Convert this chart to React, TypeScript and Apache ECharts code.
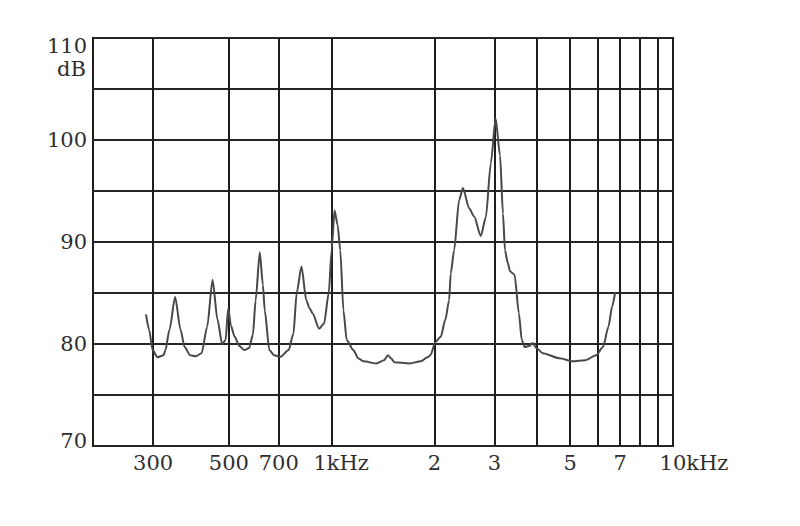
import React, { useEffect, useRef } from "react";
import * as echarts from "echarts";

// Traced spectrum (frequency in Hz, level in dB)
const freqHz = [
  286, 292, 299, 309, 322, 326, 335, 348, 361, 371, 385, 400, 416, 432, 448, 463, 478, 489, 498, 507,
  520, 537, 555, 573, 588, 599, 616, 629, 637, 657, 678, 709, 748, 773, 790, 816, 843, 862, 880, 919,
  950, 981, 1000, 1020, 1041, 1060, 1083, 1107, 1158, 1197, 1238, 1352, 1424, 1462, 1492, 1529, 1690, 1826, 1909, 1948,
  2014, 2087, 2154, 2209, 2233, 2285, 2363, 2425, 2528, 2615, 2735, 2829, 2926, 3023, 3114, 3176, 3220, 3277, 3335, 3434,
  3537, 3606, 3678, 3788, 3885, 3977, 4156, 4651, 5086, 5529, 5953, 6238, 6471, 6635, 6772,
];
const levelDb = [
  82.9, 81.4, 79.4, 78.7, 78.9, 79.4, 81.4, 84.6, 81.4, 79.7, 78.9, 78.8, 79.1, 81.7, 86.3, 82.4, 80.0, 80.4, 83.5, 81.8,
  80.7, 79.8, 79.4, 79.6, 80.9, 84.3, 89.0, 85.8, 83.3, 79.4, 78.9, 78.75, 79.4, 81.0, 85.0, 87.6, 84.3, 83.5, 83.0, 81.5,
  82.0, 85.0, 89.2, 93.1, 91.7, 89.2, 83.3, 80.4, 79.4, 78.6, 78.3, 78.1, 78.4, 78.9, 78.6, 78.2, 78.1, 78.3, 78.7, 78.9,
  80.2, 80.7, 82.4, 84.3, 86.9, 89.2, 94.1, 95.3, 93.3, 92.5, 90.6, 92.4, 97.7, 102.1, 98.5, 92.8, 89.2, 88.0, 87.1, 86.8,
  83.0, 80.4, 79.7, 79.8, 80.1, 79.6, 79.1, 78.6, 78.3, 78.4, 78.9, 79.7, 81.7, 83.7, 85.1,
];

// Vertical grid lines and labelled frequencies
const gridFreqs = [300, 500, 700, 1000, 2000, 3000, 4000, 5000, 6000, 7000, 8000, 9000];
const labelFreqs = [300, 500, 700, 1000, 2000, 3000, 5000, 7000, 10000];
const labelTexts = ["300", "500", "700", "1kHz", "2", "3", "5", "7", "10kHz"];

const FONT = "DejaVu Serif";
const TXT = "#2e2e2e";

export default function App() {
  const ref = useRef<HTMLDivElement>(null);

  useEffect(() => {
    if (!ref.current) return;
    const chart = echarts.init(ref.current, null, { renderer: "svg" });
    const data = freqHz.map((f, i) => [f, levelDb[i]]);

    chart.setOption({
      animation: false,
      backgroundColor: "#ffffff",
      grid: {
        left: 93,
        right: 127,
        top: 38,
        bottom: 80,
        show: true,
        borderColor: "#1e1e1e",
        borderWidth: 2,
        backgroundColor: "transparent",
      },
      xAxis: {
        type: "log",
        logBase: 10,
        min: 200,
        max: 10000,
        axisLine: { show: false },
        axisTick: { show: false, customValues: gridFreqs },
        splitLine: { show: true, lineStyle: { color: "#1e1e1e", width: 2 } },
        axisLabel: {
          customValues: labelFreqs,
          margin: 6,
          color: TXT,
          fontFamily: FONT,
          fontSize: 21,
          formatter: (v: number) => {
            const i = labelFreqs.indexOf(Math.round(v));
            const t = i >= 0 ? labelTexts[i] : "";
            if (t === "1kHz") return "{s1| }" + t;
            if (t === "10kHz") return "{s2| }" + t;
            return t;
          },
          rich: {
            s1: { width: 19, fontFamily: FONT, fontSize: 21 },
            s2: { width: 42, fontFamily: FONT, fontSize: 21 },
          },
        },
      },
      yAxis: {
        type: "value",
        min: 70,
        max: 110,
        interval: 5,
        axisLine: { show: false },
        axisTick: { show: false },
        splitLine: { show: true, lineStyle: { color: "#262626", width: 2 } },
        axisLabel: {
          margin: 6,
          color: TXT,
          fontFamily: FONT,
          fontSize: 21,
          formatter: (v: number) => {
            if (v % 10 !== 0) return "";
            if (v === 110) return "{hi|110}";
            if (v === 70) return "{lo|70}";
            return String(v);
          },
          rich: {
            hi: { lineHeight: 16, padding: [15, 0, 0, 0], color: TXT, fontFamily: FONT, fontSize: 21 },
            lo: { lineHeight: 16, padding: [0, 0, 10, 0], color: TXT, fontFamily: FONT, fontSize: 21 },
          },
        },
      },
      graphic: [
        {
          type: "text",
          left: 57,
          top: 58,
          style: { text: "dB", fill: TXT, font: `21px "${FONT}"`, lineHeight: 16 },
        },
      ],
      series: [
        {
          type: "line",
          data,
          showSymbol: false,
          smooth: 0.25,
          smoothMonotone: "x",
          lineStyle: { color: "#484848", width: 2 },
          z: 5,
        },
      ],
    });

    return () => chart.dispose();
  }, []);

  return (
    <div
      ref={ref}
      style={{ position: "absolute", left: 0, top: 0, width: 800, height: 526, background: "#fff" }}
    />
  );
}
